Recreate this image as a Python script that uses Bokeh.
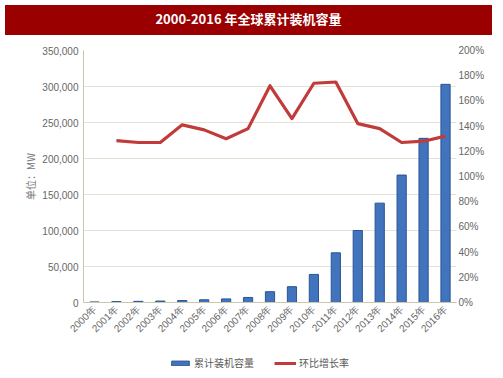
from bokeh.plotting import figure
from bokeh.models import (Range1d, LinearAxis, NumeralTickFormatter, Legend, LegendItem,
                          Div, FactorRange, ColumnDataSource, FixedTicker, Spacer)
from bokeh.layouts import column, row
from bokeh.embed import file_html
from bokeh.resources import INLINE
import math

years = ["2000年", "2001年", "2002年", "2003年", "2004年", "2005年", "2006年", "2007年", "2008年",
         "2009年", "2010年", "2011年", "2012年", "2013年", "2014年", "2015年", "2016年"]
capacity = [800, 1250, 1600, 2000, 2700, 3800, 5000, 7000, 15000, 22000, 39000, 69000,
            100000, 138000, 177000, 228000, 303000]
growth_years = years[1:]
growth = [1.285, 1.27, 1.27, 1.41, 1.37, 1.30, 1.38, 1.72, 1.46, 1.74, 1.75, 1.42, 1.38,
          1.27, 1.28, 1.32]
left_ticks = [0, 50000, 100000, 150000, 200000, 250000, 300000, 350000]
right_ticks = [0, 0.2, 0.4, 0.6, 0.8, 1.0, 1.2, 1.4, 1.6, 1.8, 2.0]

title_text = "2000-2016 年全球累计装机容量"
bar_name = "累计装机容量"
line_name = "环比增长率"
y_label = "单位：MW"

CJK = "Noto Sans CJK SC"
NUM = "Liberation Sans"
TICK_COLOR = "#666666"
GRID = "#e4e2d4"
AXIS = "#c8c6ad"
BAR_FILL = "#4174bd"
BAR_LINE = "#2b5496"
LINE_COLOR = "#c23b3b"

title = Div(text=title_text, width=487, height=30,
            styles={"background-color": "#9b0000", "color": "white",
                    "font-family": CJK, "font-weight": "bold", "font-size": "13px",
                    "text-align": "center", "line-height": "28px", "width": "487px"})

bar_src = ColumnDataSource(dict(x=years, top=capacity))
line_src = ColumnDataSource(dict(x=growth_years, y=growth))

p = figure(x_range=FactorRange(*years, range_padding=0), y_range=Range1d(0, 350000),
           width=487, height=309, output_backend="svg", toolbar_location=None,
           min_border_left=83, min_border_right=0, min_border_top=7, min_border_bottom=50)
p.outline_line_color = None
p.background_fill_color = "white"

p.extra_y_ranges = {"pct": Range1d(0, 2.0)}

bars = p.vbar(x="x", top="top", source=bar_src, width=0.42, fill_color=BAR_FILL,
              line_color=BAR_LINE, line_width=1)
ln = p.line(x="x", y="y", source=line_src, y_range_name="pct", line_color=LINE_COLOR,
            line_width=3.2, line_join="round")

ya = p.yaxis[0]
ya.formatter = NumeralTickFormatter(format="0,0")
ya.ticker = FixedTicker(ticks=left_ticks)
ya.axis_label = y_label
ya.axis_label_text_font = CJK
ya.axis_label_text_font_size = "10px"
ya.axis_label_text_font_style = "normal"
ya.axis_label_text_color = "#777777"
ya.axis_label_standoff = 1
ya.major_label_text_font = NUM
ya.major_label_text_font_size = "10px"
ya.major_label_text_color = TICK_COLOR
ya.major_label_standoff = 5
ya.axis_line_color = AXIS
ya.major_tick_line_color = None
ya.minor_tick_line_color = None
ya.major_tick_out = 0
ya.major_tick_in = 0

ra = LinearAxis(y_range_name="pct", formatter=NumeralTickFormatter(format="0%"),
                ticker=FixedTicker(ticks=right_ticks))
ra.major_label_text_font = NUM
ra.major_label_text_font_size = "10px"
ra.major_label_text_color = TICK_COLOR
ra.axis_line_color = None
ra.major_tick_line_color = None
ra.minor_tick_line_color = None
ra.major_tick_out = 0
ra.major_tick_in = 0
ra.major_label_standoff = 2
p.add_layout(ra, "right")

xa = p.xaxis[0]
xa.major_label_orientation = math.pi / 4
xa.major_label_text_font = NUM
xa.major_label_text_font_size = "10px"
xa.major_label_text_color = TICK_COLOR
xa.axis_line_color = AXIS
xa.major_tick_line_color = None
xa.minor_tick_line_color = None
xa.major_tick_out = 0
xa.major_tick_in = 0
xa.major_label_standoff = 5

p.xgrid.grid_line_color = None
p.ygrid.grid_line_color = GRID
p.ygrid.grid_line_width = 1

# legend strip: glyphs share the data, but the strip's ranges do not contain it,
# so only the legend swatches are drawn
lp = figure(width=479, height=20, output_backend="svg", toolbar_location=None,
            x_range=FactorRange(factors=["legend"]), y_range=Range1d(-1000000, -900000),
            x_axis_location=None, y_axis_location=None, min_border=0)
lp.outline_line_color = None
lp.grid.grid_line_color = None
lb = lp.vbar(x="x", top="top", source=bar_src, width=0.42, fill_color=BAR_FILL,
             line_color=BAR_LINE, line_width=1)
ll = lp.line(x="x", y="y", source=line_src, line_color=LINE_COLOR, line_width=3)
legend = Legend(items=[LegendItem(label=bar_name, renderers=[lb]),
                       LegendItem(label=line_name, renderers=[ll])],
                orientation="horizontal", border_line_color=None,
                background_fill_alpha=0, label_text_font=CJK, label_text_font_size="10px",
                label_text_color="#595959", glyph_width=22, glyph_height=6,
                spacing=20, padding=0, margin=0, label_standoff=3, location=(161, 2))
lp.add_layout(legend, "center")

layout = column(title, Spacer(height=3), p,
                row(Spacer(width=8), lp, spacing=0), spacing=0)
open("out.html", "w").write(file_html(layout, INLINE))
